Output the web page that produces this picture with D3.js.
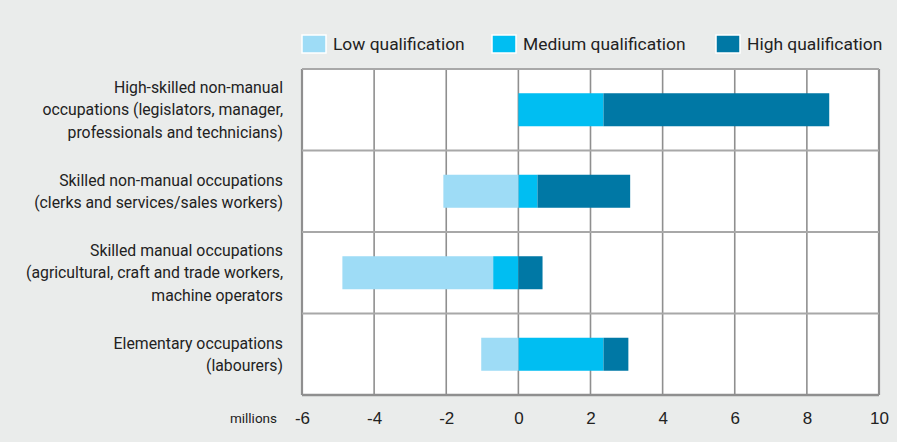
<!DOCTYPE html>
<html>
<head>
<meta charset="utf-8">
<script src="https://cdn.jsdelivr.net/npm/d3@7"></script>
<style>
  body { margin: 0; background: #eaeceb; }
  svg { display: block; font-family: "Roboto", "Liberation Sans", sans-serif; }
</style>
</head>
<body>
<svg></svg>
<script>
// occupations, one line of label per entry
var categories = [
  ["High-skilled non-manual", "occupations (legislators, manager,", "professionals and technicians)"],
  ["Skilled non-manual occupations", "(clerks and services/sales workers)"],
  ["Skilled manual occupations", "(agricultural, craft and trade workers,", "machine operators"],
  ["Elementary occupations", "(labourers)"]
];
var seriesNames = ["Low qualification", "Medium qualification", "High qualification"];
// millions
var lowQual = [0, -2.08, -4.18, -1.03];
var mediumQual = [2.36, 0.53, -0.70, 2.36];
var highQual = [6.26, 2.57, 0.67, 0.69];
var xTicks = [-6, -4, -2, 0, 2, 4, 6, 8, 10];

var colors = { low: "#9edcf6", medium: "#00bef2", high: "#0078a5" };

var svgWidth = 897, svgHeight = 442;
var margin = { top: 69, right: 18, bottom: 47, left: 302 };
var width = svgWidth - margin.left - margin.right;
var height = svgHeight - margin.top - margin.bottom;

var data = categories.map(function(c, i) {
  return { key: i, low: lowQual[i], medium: mediumQual[i], high: highQual[i] };
});

var svg = d3.select("svg")
    .attr("width", svgWidth)
    .attr("height", svgHeight);

svg.append("rect")
    .attr("width", svgWidth)
    .attr("height", svgHeight)
    .attr("fill", "#eaeceb");

var g = svg.append("g")
    .attr("transform", "translate(" + margin.left + "," + margin.top + ")");

var x = d3.scaleLinear()
    .domain([-6, 10])
    .range([0, width]);

var y = d3.scaleBand()
    .domain(d3.range(categories.length))
    .range([0, height])
    .paddingInner(0.595)
    .paddingOuter(0.2975);

// plot background
g.append("rect")
    .attr("width", width)
    .attr("height", height)
    .attr("fill", "#fff");

// vertical grid (behind the bars)
g.selectAll(".vgrid")
    .data(xTicks)
    .join("line")
    .attr("x1", function(d) { return x(d); })
    .attr("x2", function(d) { return x(d); })
    .attr("y1", 0)
    .attr("y2", height)
    .attr("stroke", "#8f8f8f")
    .attr("stroke-width", function(d) { return (d === -6 || d === 10) ? 2.2 : 1.6; });

// row separators
var half = (y.step() - y.bandwidth()) / 2;
var rowEdges = d3.range(categories.length).map(function(i) { return y(i) - half; });
rowEdges.push(height);
g.selectAll(".hgrid")
    .data(rowEdges)
    .join("line")
    .attr("x1", 0)
    .attr("x2", width)
    .attr("y1", function(d) { return d; })
    .attr("y2", function(d) { return d; })
    .attr("stroke", function(d, i) { return i === rowEdges.length - 1 ? "#8f8f8f" : "#a8a8a8"; })
    .attr("stroke-width", function(d, i) { return i === rowEdges.length - 1 ? 2.6 : 2; });

// stacking: medium next to zero, low outside it on the negative side
var stack = d3.stack()
    .keys(["medium", "high", "low"])
    .offset(d3.stackOffsetDiverging);
var series = stack(data);

g.selectAll(".series")
    .data(series)
    .join("g")
    .attr("fill", function(s) { return colors[s.key]; })
    .selectAll("rect")
    .data(function(s) { return s; })
    .join("rect")
    .attr("x", function(d) { return x(Math.min(d[0], d[1])); })
    .attr("width", function(d) { return Math.abs(x(d[1]) - x(d[0])); })
    .attr("y", function(d) { return y(d.data.key); })
    .attr("height", y.bandwidth());

// x axis labels (plain hyphen for negatives)
var xAxis = g.append("g")
    .attr("transform", "translate(0," + height + ")")
    .call(d3.axisBottom(x).tickValues(xTicks).tickSize(0).tickPadding(17)
      .tickFormat(function(d) { return String(d); }));
xAxis.select(".domain").remove();
xAxis.selectAll("text")
    .attr("fill", "#222")
    .style("font-size", "17px")
    .style("font-family", null);

svg.append("text")
    .attr("x", 277)
    .attr("y", 423)
    .attr("text-anchor", "end")
    .attr("fill", "#222")
    .style("font-size", "13.5px")
    .text("millions");

// category labels
var labels = g.selectAll(".cat")
    .data(categories)
    .join("text")
    .attr("text-anchor", "end")
    .attr("fill", "#222")
    .style("font-size", "15.8px")
    .attr("transform", function(d, i) {
      var cy = y(i) + y.bandwidth() / 2;
      return "translate(-19," + cy + ")";
    });
labels.selectAll("tspan")
    .data(function(d) { return d.map(function(t, j) { return { t: t, j: j, n: d.length }; }); })
    .join("tspan")
    .attr("x", 0)
    .attr("y", function(d) { return (d.j - (d.n - 1) / 2) * 22.5; })
    .attr("dy", "0.35em")
    .text(function(d) { return d.t; });

// legend
var legendX = [302, 492, 716];
var legendKeys = ["low", "medium", "high"];
var legend = svg.selectAll(".legend")
    .data(seriesNames)
    .join("g")
    .attr("transform", function(d, i) { return "translate(" + legendX[i] + ",35)"; });
legend.append("rect")
    .attr("width", 24)
    .attr("height", 18)
    .attr("fill", function(d, i) { return colors[legendKeys[i]]; })
    .attr("stroke", "#fff")
    .attr("stroke-width", 1.5);
legend.append("text")
    .attr("x", 31)
    .attr("y", 9)
    .attr("dy", "0.35em")
    .attr("fill", "#222")
    .style("font-size", "17.4px")
    .text(function(d) { return d; });
</script>
</body>
</html>
